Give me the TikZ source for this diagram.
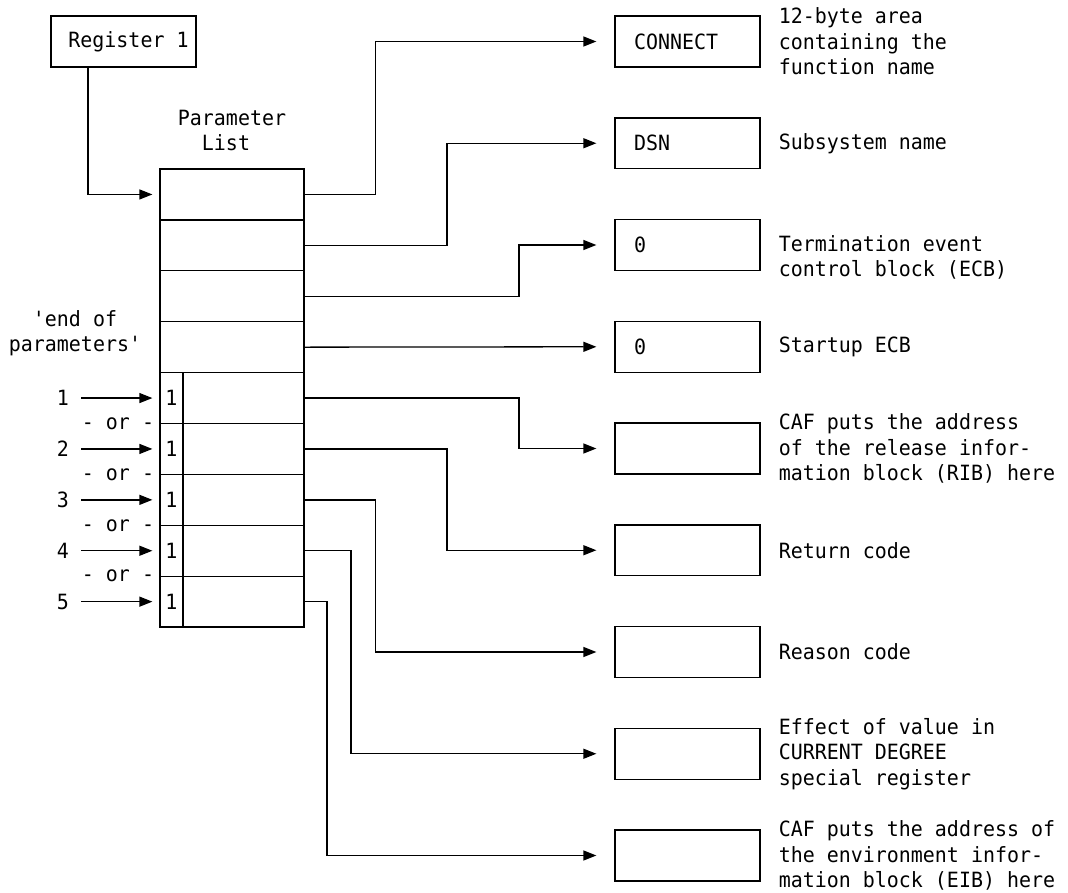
\documentclass[tikz,border=0pt]{standalone}
\usepackage{fontspec}
\setmonofont[FakeStretch=0.95]{DejaVu Sans Mono}
\usetikzlibrary{arrows.meta,calc}
\begin{document}
\begin{tikzpicture}[x=1pt,y=-1pt,
  every node/.style={font=\ttfamily\fontsize{21pt}{25.5pt}\selectfont},
  conn/.style={line width=1.3pt, -{Triangle[length=13pt,width=10pt]}},
  cell/.style={draw, line width=1.3pt, minimum width=144pt, minimum height=50.9pt, inner sep=0pt},
  flag/.style={draw, line width=1.3pt, minimum width=23pt, minimum height=50.9pt, inner sep=0pt},
  target/.style={draw, line width=1.3pt, minimum height=50.8pt, inner xsep=19pt, inner ysep=0pt, text width=107pt, align=left},
  desc/.style={anchor=west, align=left, inner sep=0pt},
  num/.style={inner xsep=12pt, inner ysep=0pt},
  ]
\useasboundingbox (0,0) rectangle (1068,892);

% Register 1
\node[draw, line width=1.3pt, minimum width=145pt, minimum height=51pt, inner sep=0pt] (reg) at (123.5,41.5) {\hspace*{10pt}Register 1};

% Parameter list
\node[align=center, inner sep=0pt] (plh) at (232,130.5) {Parameter\\List\hspace*{12pt}};
\foreach \i in {1,...,9}
  \node[cell] (p\i) at (232,{169+50.9*(\i-0.5)}) {};
\foreach \i in {5,...,9}
  \node[flag] (f\i) at (171.5,{169+50.9*(\i-0.5)}) {1};

% end of parameters
\node[align=center, inner sep=0pt] (eop) at (75,333) {'end of\\parameters'};
\foreach \k/\i in {1/5,2/6,3/7,4/8,5/9}{
  \node[num] (n\k) at (63,{169+50.9*(\i-0.5)}) {\k};
  \draw[conn, shorten >=7pt] (n\k.east) -- (f\i.west);
}
\foreach \k/\i in {1/6,2/7,3/8,4/9}
  \node[inner sep=0pt] (or\k) at (118,{169+50.9*(\i-1)}) {- or -};

% target boxes
\node[target] (r1) at (687.5,41.5) {CONNECT};
\node[target] (r2) at (687.5,143.25) {DSN};
\node[target] (r3) at (687.5,245) {0};
\node[target] (r4) at (687.5,346.75) {0};
\node[target] (r5) at (687.5,448.5) {};
\node[target] (r6) at (687.5,550.25) {};
\node[target] (r7) at (687.5,652) {};
\node[target] (r8) at (687.5,753.75) {};
\node[target] (r9) at (687.5,855.5) {};

% descriptions
\node[desc] (d1) at ([xshift=18pt]r1.east) {12-byte area\\containing the\\function name};
\node[desc] (d2) at ([xshift=18pt]r2.east) {Subsystem name};
\node[desc] (d3) at ([xshift=18pt,yshift=-12.5pt]r3.east) {Termination event\\control block (ECB)};
\node[desc] (d4) at ([xshift=18pt]r4.east) {Startup ECB};
\node[desc] (d5) at ([xshift=18pt]r5.east) {CAF puts the address\\of the release infor-\\mation block (RIB) here};
\node[desc] (d6) at ([xshift=18pt]r6.east) {Return code};
\node[desc] (d7) at ([xshift=18pt]r7.east) {Reason code};
\node[desc] (d8) at ([xshift=18pt]r8.east) {Effect of value in\\CURRENT DEGREE\\special register};
\node[desc] (d9) at ([xshift=18pt]r9.east) {CAF puts the address of\\the environment infor-\\mation block (EIB) here};

% bend columns
\coordinate (b0) at (88,0);
\coordinate (bA) at (375.5,0);
\coordinate (bB) at (447,0);
\coordinate (bC) at (519,0);
\coordinate (bD) at (351,0);
\coordinate (bE) at (327,0);

% connectors
\draw[conn, shorten >=7pt] (reg.south -| b0) |- (p1.west);
\draw[conn, shorten >=18pt] (p1.east) -- (p1.east -| bA) |- (r1.west);
\draw[conn, shorten >=18pt] (p2.east) -- (p2.east -| bB) |- (r2.west);
\draw[conn, shorten >=18pt] (p3.east) -- (p3.east -| bC) |- (r3.west);
\draw[conn, shorten >=18pt] (p4.east) -- (r4.west);
\draw[conn, shorten >=18pt] (p5.east) -- (p5.east -| bC) |- (r5.west);
\draw[conn, shorten >=18pt] (p6.east) -- (p6.east -| bB) |- (r6.west);
\draw[conn, shorten >=18pt] (p7.east) -- (p7.east -| bA) |- (r7.west);
\draw[conn, shorten >=18pt] (p8.east) -- (p8.east -| bD) |- (r8.west);
\draw[conn, shorten >=18pt] (p9.east) -- (p9.east -| bE) |- (r9.west);
\end{tikzpicture}
\end{document}
